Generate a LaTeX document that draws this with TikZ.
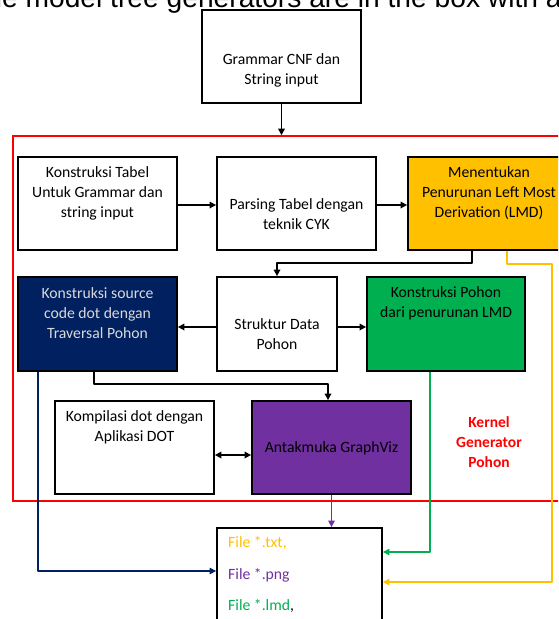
\documentclass[tikz,border=0pt]{standalone}
\usepackage{fontspec}
\setmainfont{Carlito}
\newfontfamily\capfont{Liberation Sans}
\usetikzlibrary{arrows.meta,calc}
\definecolor{lmdorange}{HTML}{FFC000}
\definecolor{navyblue}{HTML}{002060}
\definecolor{leafgreen}{HTML}{00B050}
\definecolor{vizpurple}{HTML}{7030A0}
\definecolor{paletext}{HTML}{D9D9D9}
\tikzset{
  box/.style={draw=black, line width=1.8pt, minimum width=159pt, minimum height=93pt, inner sep=0pt},
  txt/.style={font=\fontsize{15.7}{20}\selectfont, align=center, inner sep=0pt},
  filetxt/.style={font=\fontsize{15.7}{20}\selectfont, anchor=west, inner sep=0pt},
  conn/.style={line width=1.6pt, line join=round, -{Triangle[length=6.5pt,width=6.5pt]}},
  wire/.style={line width=1.4pt, line join=round, -{Triangle[length=6.5pt,width=6.5pt]}},
  twoway/.style={line width=1.6pt, {Triangle[length=6.5pt,width=6.5pt]}-{Triangle[length=6.5pt,width=6.5pt]}}
}
\begin{document}
\begin{tikzpicture}[x=1pt,y=-1pt]
\useasboundingbox (0,0) rectangle (558,619);
\clip (0,0) rectangle (558,619);

% caption line running off the top edge
\node[font=\capfont\fontsize{28.2}{30}\selectfont, anchor=base west, inner sep=0pt] (caption) at (-31,7)
  {The model tree generators are in the box with a red line};

% input box
\node[box] (input) at (281.5,56.5) {};
\node[txt] (inputtxt) at (281.5,70) {Grammar CNF dan\\String input};

% kernel frame
\node[draw=red, line width=1.6pt, minimum width=557pt, minimum height=365pt, inner sep=0pt] (kernelbox) at (291.5,318.5) {};
\node[txt, font=\bfseries\fontsize{15.5}{20}\selectfont, text=red] (kernellbl) at (489,442) {Kernel\\Generator\\Pohon};

% first row
\node[box] (tabel) at (97.5,203.5) {};
\node[txt] (tabeltxt) at (97.5,193) {Konstruksi Tabel\\Untuk Grammar dan\\string input};
\node[box] (cyk) at (296.5,203.5) {};
\node[txt] (cyktxt) at (296.5,214) {Parsing Tabel dengan\\teknik CYK};
\node[box, fill=lmdorange] (lmd) at (487.5,203.5) {};
\node[txt] (lmdtxt) at (489,193) {Menentukan\\Penurunan Left Most\\Derivation (LMD)};

% second row
\node[box, fill=navyblue, minimum height=94pt] (dot) at (97.5,324) {};
\node[txt, text=paletext] (dottxt) at (97.5,313) {Konstruksi source\\code dot dengan\\Traversal Pohon};
\node[box, minimum width=120pt, minimum height=94pt] (tree) at (277,324) {};
\node[txt] (treetxt) at (277,334) {Struktur Data\\Pohon};
\node[box, fill=leafgreen, minimum width=158pt, minimum height=94pt] (build) at (446,324) {};
\node[txt] (buildtxt) at (446,303) {Konstruksi Pohon\\dari penurunan LMD};

% third row
\node[box] (compile) at (134.5,447.5) {};
\node[txt] (compiletxt) at (134.5,427) {Kompilasi dot dengan\\Aplikasi DOT};
\node[box, fill=vizpurple] (viz) at (331.5,447.5) {};
\node[txt] (viztxt) at (331.5,448) {Antakmuka GraphViz};

% output files
\node[box, minimum width=165pt, minimum height=110pt] (files) at (299.5,583) {};
\node[filetxt, text=lmdorange] (ftxt) at (228,543) {File *.txt,};
\node[filetxt, text=vizpurple] (fpng) at (228,575) {File *.png};
\node[filetxt, text=leafgreen] (flmd) at (228,606) {File *.lmd\textcolor{black}{,}};

% black connectors
\draw[conn] (input.south) -- (input.south |- kernelbox.north);
\draw[conn] ([yshift=-1.5pt]tabel.east) -- ([yshift=-1.5pt]cyk.west);
\draw[conn] ([yshift=-1.5pt]cyk.east) -- ([yshift=-1.5pt]lmd.west);
\draw[conn] ([xshift=-15.5pt]lmd.south) -- ++(0,12) -| (tree.north);
\draw[conn] ([yshift=-3pt]tree.west) -- ([yshift=-3pt]dot.east);
\draw[conn] ([yshift=-3pt]tree.east) -- ([yshift=-3pt]build.west);
\draw[conn] ([xshift=-3.5pt]dot.south) -- ++(0,12) -| ([xshift=-3.5pt]viz.north);
\draw[twoway] ([yshift=-7.5pt]compile.east) -- ([yshift=-7.5pt]viz.west);

% coloured connectors to the output files
\coordinate (orangebend) at (552,264);
\draw[wire, lmdorange] ([xshift=19.5pt]lmd.south) |- (orangebend) |- ([yshift=1pt]files.east);
\draw[wire, navyblue] ([xshift=-59.5pt]dot.south) |- ([yshift=12pt]files.west);
\draw[wire, leafgreen] ([xshift=-16pt]build.south) |- ([yshift=31pt]files.east);
\draw[wire, vizpurple] (viz.south) -- (viz.south |- files.north);
\end{tikzpicture}
\end{document}
